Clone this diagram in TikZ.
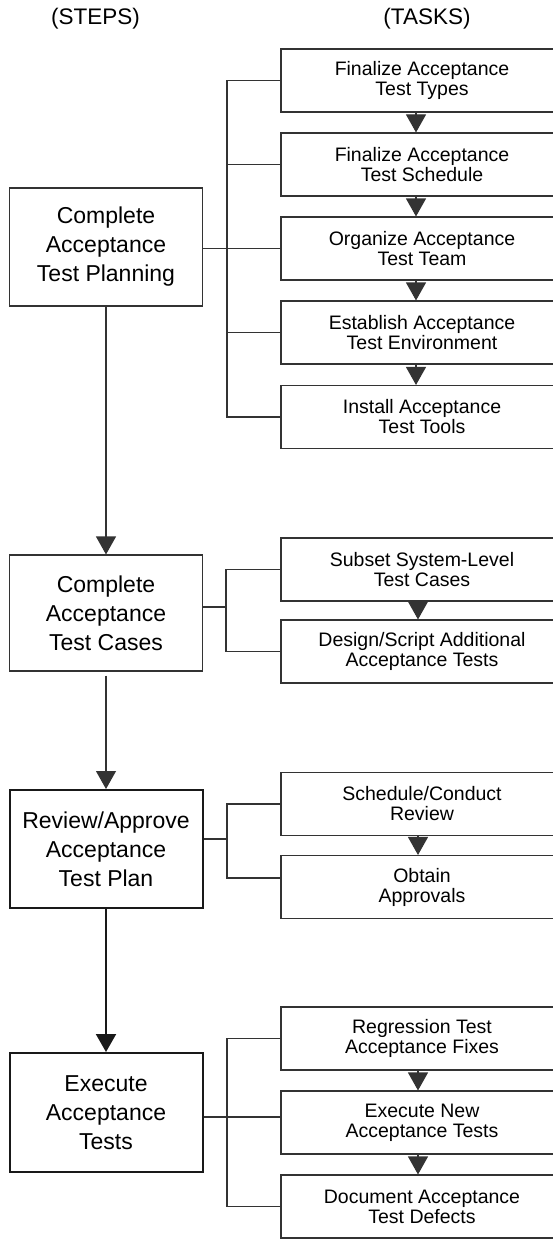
\documentclass[tikz,border=0pt]{standalone}
\usepackage{fontspec}
\setmainfont{Liberation Sans}
\usetikzlibrary{arrows.meta}
\definecolor{ink}{HTML}{333333}
\begin{document}
\begin{tikzpicture}[x=1pt,y=-1pt,
  stepbox/.style={draw=ink, line width=1.1pt, minimum width=193pt, align=center,
    font=\fontsize{23}{29}\selectfont, inner sep=0pt},
  keystep/.style={stepbox, draw=black!90, line width=2pt},
  taskbox/.style={draw=ink, line width=1.1pt, minimum width=282pt, minimum height=63pt,
    align=center, font=\fontsize{19.5}{20}\selectfont, inner sep=0pt},
  head/.style={font=\fontsize{22.5}{26}\selectfont},
  link/.style={draw=ink, line width=1.1pt},
  flow/.style={link, -{Triangle[width=20pt,length=18pt]}},
  keyflow/.style={draw=black!90, line width=2pt, -{Triangle[width=20pt,length=18pt]}}
]
\useasboundingbox (0,0) rectangle (553,1244);
\clip (0,0) rectangle (553,1244);

% column headings
\node[head] (steps) at (95.5,19) {(STEPS)};
\node[head] (tasks) at (427,19) {(TASKS)};

% steps
\node[stepbox, minimum height=118pt] (s1) at (106,247) {Complete\\Acceptance\\Test Planning};
\node[stepbox, minimum height=116pt] (s2) at (106,613) {Complete\\Acceptance\\Test Cases};
\node[keystep, minimum height=118pt] (s3) at (106,849) {Review/Approve\\Acceptance\\Test Plan};
\node[keystep, minimum height=119pt] (s4) at (106,1112.5) {Execute\\Acceptance\\Tests};

% tasks
\node[taskbox] (t1) at (422,80.5) {Finalize Acceptance\\Test Types};
\node[taskbox] (t2) at (422,164.5) {Finalize Acceptance\\Test Schedule};
\node[taskbox] (t3) at (422,248.5) {Organize Acceptance\\Test Team};
\node[taskbox] (t4) at (422,332.5) {Establish Acceptance\\Test Environment};
\node[taskbox] (t5) at (422,417) {Install Acceptance\\Test Tools};

\node[taskbox] (t6) at (422,569.5) {Subset System-Level\\Test Cases};
\node[taskbox] (t7) at (422,651.5) {Design/Script Additional\\Acceptance Tests};

\node[taskbox] (t8) at (422,804) {Schedule/Conduct\\Review};
\node[taskbox] (t9) at (422,887) {Obtain\\Approvals};

\node[taskbox] (t10) at (422,1038.5) {Regression Test\\Acceptance Fixes};
\node[taskbox] (t11) at (422,1122.5) {Execute New\\Acceptance Tests};
\node[taskbox] (t12) at (422,1206.5) {Document Acceptance\\Test Defects};

% bracket columns, one per step
\coordinate (b1) at ([xshift=-53.5pt]t1.west);
\coordinate (b2) at ([xshift=-54.5pt]t6.west);
\coordinate (b3) at ([xshift=-53.5pt]t8.west);
\coordinate (b4) at ([xshift=-53.5pt]t10.west);

% flow between steps
\draw[flow] (s1.south) -- (s2.north);
\draw[flow, shorten <=4pt] (s2.south) -- (s3.north);
\draw[keyflow] (s3.south) -- (s4.north);

% flow between tasks
\draw[flow] ([xshift=-6pt]t1.south) -- ([xshift=-6pt]t2.north);
\draw[flow] ([xshift=-6pt]t2.south) -- ([xshift=-6pt]t3.north);
\draw[flow] ([xshift=-6pt]t3.south) -- ([xshift=-6pt]t4.north);
\draw[flow] ([xshift=-6pt]t4.south) -- ([xshift=-6pt]t5.north);
\draw[flow] ([xshift=-4pt]t6.south) -- ([xshift=-4pt]t7.north);
\draw[flow] ([xshift=-4pt]t8.south) -- ([xshift=-4pt]t9.north);
\draw[flow] ([xshift=-4pt]t10.south) -- ([xshift=-4pt]t11.north);
\draw[flow] ([xshift=-4pt]t11.south) -- ([xshift=-4pt]t12.north);

% step 1 and its tasks
\draw[link] (t3.west) -- (t3.west -| s1.east);
\draw[link] (t1.west) -- (b1) |- (t5.west);
\draw[link] (t2.west) -- (t2.west -| b1);
\draw[link] (t4.west) -- (t4.west -| b1);

% step 2 and its tasks
\draw[link] ([yshift=6pt]s2.east) -- ([yshift=6pt]s2.east -| b2);
\draw[link] (t6.west) -- (b2) |- (t7.west);

% step 3 and its tasks
\draw[link] ([yshift=10pt]s3.east) -- ([yshift=10pt]s3.east -| b3);
\draw[link] (t8.west) -- (b3) |- ([yshift=9pt]t9.west);

% step 4 and its tasks
\draw[link] ([yshift=5.5pt]t11.west) -- ([yshift=5.5pt]t11.west -| s4.east);
\draw[link] (t10.west) -- (b4) |- (t12.west);
\end{tikzpicture}
\end{document}
